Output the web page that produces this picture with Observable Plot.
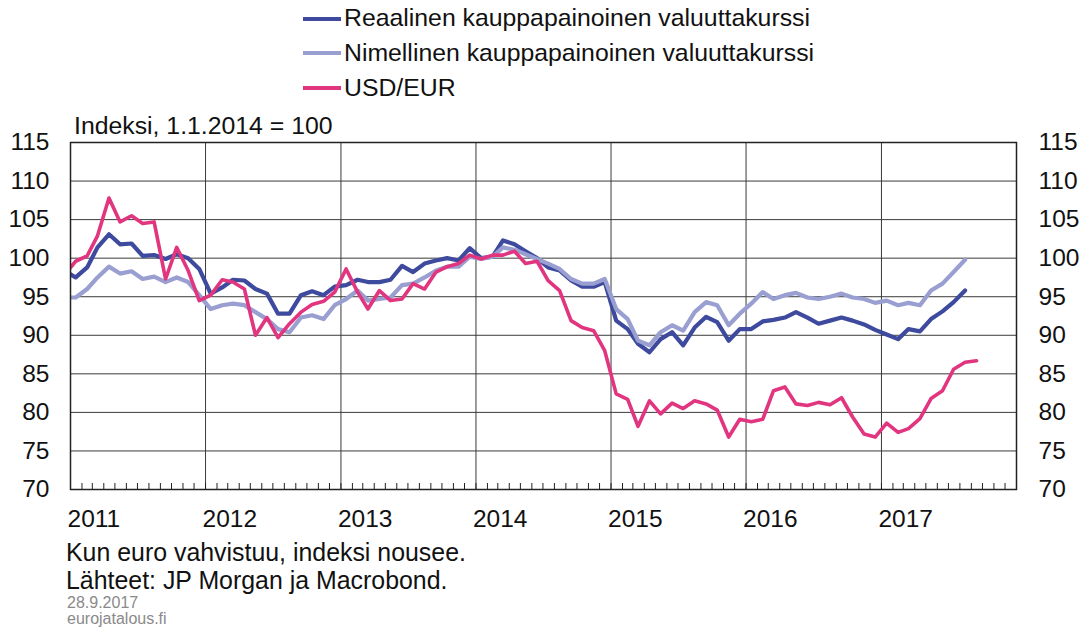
<!DOCTYPE html>
<html>
<head>
<meta charset="utf-8">
<script src="https://cdn.jsdelivr.net/npm/d3@7"></script>
<script src="https://cdn.jsdelivr.net/npm/@observablehq/plot@0.6"></script>
<style>
  body { margin: 0; background: #fff; }
  #wrap { position: relative; width: 1083px; height: 629px; font-family: "Liberation Sans", Arial, sans-serif; color: #111; overflow: hidden; }
  #chart { position: absolute; left: 0; top: 0; }
  .t { position: absolute; white-space: nowrap; line-height: 1; }
  .sw { position: absolute; height: 4px; }
</style>
</head>
<body>
<div id="wrap">
  <div id="chart"></div>
  <div id="legend"></div>
  <div class="t" style="left:74px; top:114px; font-size:24.8px;">Indeksi, 1.1.2014 = 100</div>
  <div class="t" style="left:66px; top:539.5px; font-size:24.9px;">Kun euro vahvistuu, indeksi nousee.</div>
  <div class="t" style="left:66px; top:568px; font-size:24.9px;">Lähteet: JP Morgan ja Macrobond.</div>
  <div class="t" style="left:67px; top:594.5px; font-size:16px; color:#8a8a8a;">28.9.2017</div>
  <div class="t" style="left:67px; top:610.5px; font-size:16px; color:#8a8a8a;">eurojatalous.fi</div>
</div>
<script>
// ---- Data (monthly, first month = Dec 2010) ----
const firstMonth = "2010-12-15";
const seriesNames = [
  "Reaalinen kauppapainoinen valuuttakurssi",
  "Nimellinen kauppapainoinen valuuttakurssi",
  "USD/EUR"
];
const seriesColors = ["#3d4a9e", "#9a9fd1", "#e2357f"];

// Reaalinen kauppapainoinen valuuttakurssi (Dec 2010 – Aug 2017)
const realValues = [
  98.4,
  97.5, 98.8, 101.4, 103.1, 101.8, 101.9, 100.3, 100.4, 99.9, 100.5, 100.0, 98.6,
  95.4, 96.2, 97.2, 97.1, 96.0, 95.4, 92.8, 92.8, 95.2, 95.7, 95.2, 96.3,
  96.5, 97.2, 96.9, 96.9, 97.2, 99.0, 98.2, 99.3, 99.7, 100.0, 99.7, 101.3,
  100.0, 100.2, 102.3, 101.8, 100.9, 100.0, 98.8, 98.4, 97.1, 96.3, 96.3, 96.9,
  91.9, 90.8, 88.9, 87.8, 89.5, 90.4, 88.7, 91.0, 92.4, 91.7, 89.3, 90.8,
  90.8, 91.8, 92.0, 92.3, 93.0, 92.3, 91.5, 91.9, 92.3, 91.9, 91.4, 90.7,
  90.1, 89.5, 90.8, 90.5, 92.1, 93.1, 94.3, 95.8
];

// Nimellinen kauppapainoinen valuuttakurssi (Dec 2010 – Aug 2017)
const nominalValues = [
  94.9,
  94.9, 96.0, 97.5, 98.9, 98.0, 98.3, 97.3, 97.6, 96.9, 97.5, 96.9, 95.2,
  93.4, 93.9, 94.1, 93.9, 93.0, 92.1, 90.8, 90.4, 92.3, 92.6, 92.1, 93.9,
  94.7, 95.8, 94.5, 94.7, 94.9, 96.5, 96.7, 97.5, 98.4, 98.9, 98.9, 100.2,
  99.9, 100.2, 101.4, 101.1, 100.5, 99.9, 99.3, 98.6, 97.3, 96.7, 96.7, 97.3,
  93.4, 92.1, 89.3, 88.7, 90.4, 91.3, 90.6, 93.0, 94.3, 93.9, 91.3, 92.8,
  94.1, 95.6, 94.7, 95.2, 95.5, 94.9, 94.7, 95.0, 95.4, 94.9, 94.7, 94.2,
  94.5, 93.9, 94.2, 93.9, 95.8, 96.7, 98.2, 99.8
];

// USD/EUR (Dec 2010 – Sep 2017)
const usdEurValues = [
  97.8,
  99.6, 100.3, 102.9, 107.8, 104.7, 105.5, 104.5, 104.7, 97.3, 101.4, 98.4, 94.5,
  95.2, 97.2, 96.9, 96.0, 90.0, 92.3, 89.7, 91.5, 93.0, 94.0, 94.4, 95.6,
  98.6, 95.6, 93.4, 95.8, 94.5, 94.7, 96.7, 96.0, 98.2, 98.9, 99.3, 100.4,
  99.9, 100.4, 100.4, 100.9, 99.3, 99.6, 97.1, 95.8, 91.9, 91.0, 90.6, 88.0,
  82.4, 81.7, 78.2, 81.5, 79.8, 81.2, 80.5, 81.5, 81.1, 80.3, 76.8, 79.1,
  78.8, 79.1, 82.8, 83.3, 81.1, 80.9, 81.3, 81.0, 81.9, 79.4, 77.2, 76.8,
  78.6, 77.4, 77.9, 79.2, 81.8, 82.8, 85.6, 86.5, 86.7
];

const yTicks = [70, 75, 80, 85, 90, 95, 100, 105, 110, 115];
const yearLabels = ["2011", "2012", "2013", "2014", "2015", "2016", "2017"];
const xStart = "2011-01-01";
const xEnd = "2018-01-01";

// ---- Build tables ----
const start = new Date(firstMonth + "T00:00:00Z");
const monthDate = i => d3.utcMonth.offset(start, i);
function toRows(values, name) {
  return values.map((v, i) => ({date: monthDate(i), value: v, series: name}));
}
const seriesValues = [realValues, nominalValues, usdEurValues];

const yearDates = yearLabels.map(y => new Date(y + "-01-01T00:00:00Z"));
const domainX = [new Date(xStart + "T00:00:00Z"), new Date(xEnd + "T00:00:00Z")];
const monthTicks = d3.utcMonth.range(domainX[0], domainX[1]);

const W = 1083, H = 629, mT = 142, mB = 140, mL = 70, mR = 67;
const innerH = H - mT - mB;
const font = "Liberation Sans, Arial, sans-serif";

const chart = Plot.plot({
  width: W, height: H,
  marginTop: mT, marginBottom: mB, marginLeft: mL, marginRight: mR,
  x: {type: "utc", domain: domainX, label: null},
  y: {domain: [yTicks[0], yTicks[yTicks.length - 1]], label: null},
  style: {fontFamily: font, fontSize: "24px", color: "#111", background: "transparent", overflow: "visible"},
  marks: [
    Plot.gridY(yTicks, {stroke: "#3a3a3a", strokeOpacity: 1, strokeWidth: 1}),
    Plot.gridX(yearDates.slice(1), {stroke: "#3a3a3a", strokeOpacity: 1, strokeWidth: 1}),
    Plot.tickX(monthTicks, {x: d => d, insetTop: innerH - 6, stroke: "#222", strokeWidth: 1}),
    ...seriesValues.map((vals, k) =>
      Plot.line(toRows(vals, seriesNames[k]), {
        x: "date", y: "value", stroke: seriesColors[k],
        strokeWidth: k === 2 ? 3.6 : 4.2, clip: true, curve: "linear"
      })
    ),
    Plot.frame({stroke: "#222", strokeWidth: 1.5}),
    Plot.axisY(yTicks, {anchor: "left", tickSize: 0, tickPadding: 21, fontSize: 24.5, label: null}),
    Plot.axisY(yTicks, {anchor: "right", tickSize: 0, tickPadding: 22, fontSize: 24.5, label: null}),
    Plot.axisX(yearDates, {anchor: "bottom", tickSize: 0, tickPadding: 20, fontSize: 24.5, textAnchor: "start", dx: -3,
      tickFormat: d => yearLabels[yearDates.findIndex(y => +y === +d)], label: null})
  ]
});
document.getElementById("chart").appendChild(chart);

// ---- Legend ----
const legend = document.getElementById("legend");
const rowCenters = [18.5, 53, 88];
const legendSize = 24.8;
seriesNames.forEach((name, k) => {
  const sw = document.createElement("div");
  sw.className = "sw";
  sw.style.left = "303px";
  sw.style.width = "38px";
  sw.style.top = (rowCenters[k] - 2) + "px";
  sw.style.background = seriesColors[k];
  legend.appendChild(sw);
  const t = document.createElement("div");
  t.className = "t";
  t.style.left = "344px";
  t.style.fontSize = legendSize + "px";
  t.style.top = (rowCenters[k] + 0.358 * legendSize - 0.8465 * legendSize) + "px";
  t.textContent = name;
  legend.appendChild(t);
});
</script>
</body>
</html>
